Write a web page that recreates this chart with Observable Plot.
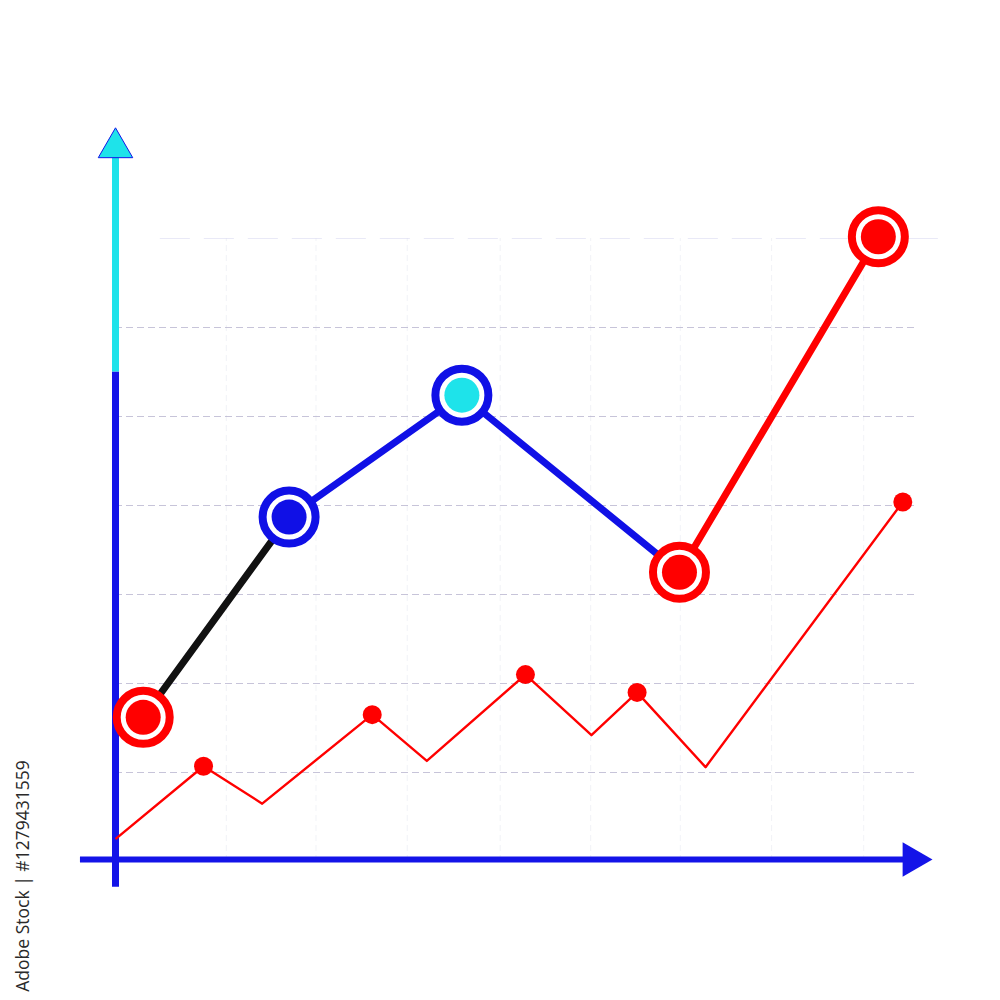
<!DOCTYPE html>
<html>
<head>
<meta charset="utf-8">
<script src="https://cdn.jsdelivr.net/npm/d3@7"></script>
<script src="https://cdn.jsdelivr.net/npm/@observablehq/plot@0.6"></script>
<style>
  html, body { margin: 0; padding: 0; background: #fff; }
  #wrap { position: relative; width: 1000px; height: 1000px; }
  #credit {
    position: absolute; left: 22px; top: 876px;
    transform: translate(-50%, -50%) rotate(-90deg);
    white-space: nowrap; font-family: "Open Sans", "Noto Sans", sans-serif;
    font-size: 17.5px; color: #2a2a2a;
  }
</style>
</head>
<body>
<div id="wrap"><div id="credit">Adobe Stock | #1279431559</div></div>
<script>
// Main (thick) series: x positions and values
const mainX = [3.4, 21.3, 42.5, 69.2, 93.6];
const mainY = [1.62, 3.87, 5.24, 3.25, 7.02];
const mainRing = ["#ff0000", "#1010e6", "#1010e6", "#ff0000", "#ff0000"];
const mainFill = ["#ff0000", "#1010e6", "#1ee3ea", "#ff0000", "#ff0000"];
const segColor = ["#111111", "#1010e6", "#1010e6", "#ff0000"];

// Secondary (thin) series
const subX = [0.1, 10.8, 18.0, 31.5, 38.2, 50.3, 58.4, 64.0, 72.4, 96.6];
const subY = [0.26, 1.07, 0.65, 1.65, 1.13, 2.10, 1.42, 1.90, 1.06, 4.04];
const subMarked = [false, true, false, true, false, true, false, true, false, true];

// Grid
const gridY = [1, 2, 3, 4, 5, 6, 7];
const gridX = [13.6, 24.6, 35.8, 47.2, 58.3, 69.3, 80.5, 91.8];

const main = mainX.map((x, i) => ({x, y: mainY[i], ring: mainRing[i], fill: mainFill[i]}));
const segs = segColor.map((c, i) => ({x1: mainX[i], y1: mainY[i], x2: mainX[i + 1], y2: mainY[i + 1], c}));
const sub = subX.map((x, i) => ({x, y: subY[i], marked: subMarked[i]}));

const blue = "#1414e8";
const cyan = "#1ee3ea";

const chart = Plot.plot({
  width: 1000,
  height: 1000,
  marginLeft: 115,
  marginRight: 70,
  marginTop: 60,
  marginBottom: 139,
  x: {domain: [0, 100], axis: null},
  y: {domain: [0, 9], axis: null},
  style: {background: "transparent", overflow: "visible"},
  marks: [
    // faint vertical grid
    Plot.ruleX(gridX, {y1: 0, y2: 7, stroke: "#d0d4e4", strokeOpacity: 0.3, strokeWidth: 1, strokeDasharray: "6,4"}),
    // horizontal dashed grid
    Plot.ruleY(gridY.filter(d => d < 7), {x1: 0, x2: 98.5, stroke: "#b4b0cc", strokeOpacity: 0.75, strokeWidth: 1, strokeDasharray: "7,4"}),
    Plot.ruleY(gridY.filter(d => d === 7), {x1: 5.5, x2: 102, stroke: "#d4d4f0", strokeOpacity: 0.5, strokeWidth: 1.2, strokeDasharray: "30,14"}),
    // axes
    Plot.ruleY([0], {x1: -4.3, x2: 97, stroke: blue, strokeWidth: 6, dy: -2}),
    Plot.ruleX([0], {y1: -0.29, y2: 5.5, stroke: blue, strokeWidth: 7}),
    Plot.ruleX([0], {y1: 5.5, y2: 8.0, stroke: cyan, strokeWidth: 7}),
    Plot.dot([0], {x: d => d, y: 8.02, symbol: "triangle", r: 12.8, fill: cyan, stroke: blue, strokeWidth: 1}),
    Plot.dot([0], {x: 97.8, y: d => d, symbol: "triangle", r: 12.8, rotate: 90, fill: blue, dy: -2}),
    // thin red series
    Plot.line(sub, {x: "x", y: "y", stroke: "#ff0000", strokeWidth: 2.4, strokeLinejoin: "round"}),
    Plot.dot(sub.filter(d => d.marked), {x: "x", y: "y", r: 9.5, fill: "#ff0000"}),
    // thick series segments
    Plot.link(segs, {x1: "x1", y1: "y1", x2: "x2", y2: "y2", stroke: "c", strokeWidth: 7, strokeLinecap: "round"}),
    // ring markers
    Plot.dot(main, {x: "x", y: "y", r: 26.5, fill: "white", stroke: "ring", strokeWidth: 8}),
    Plot.dot(main, {x: "x", y: "y", r: 17.5, fill: "fill"})
  ]
});
document.getElementById("wrap").prepend(chart);
</script>
</body>
</html>
